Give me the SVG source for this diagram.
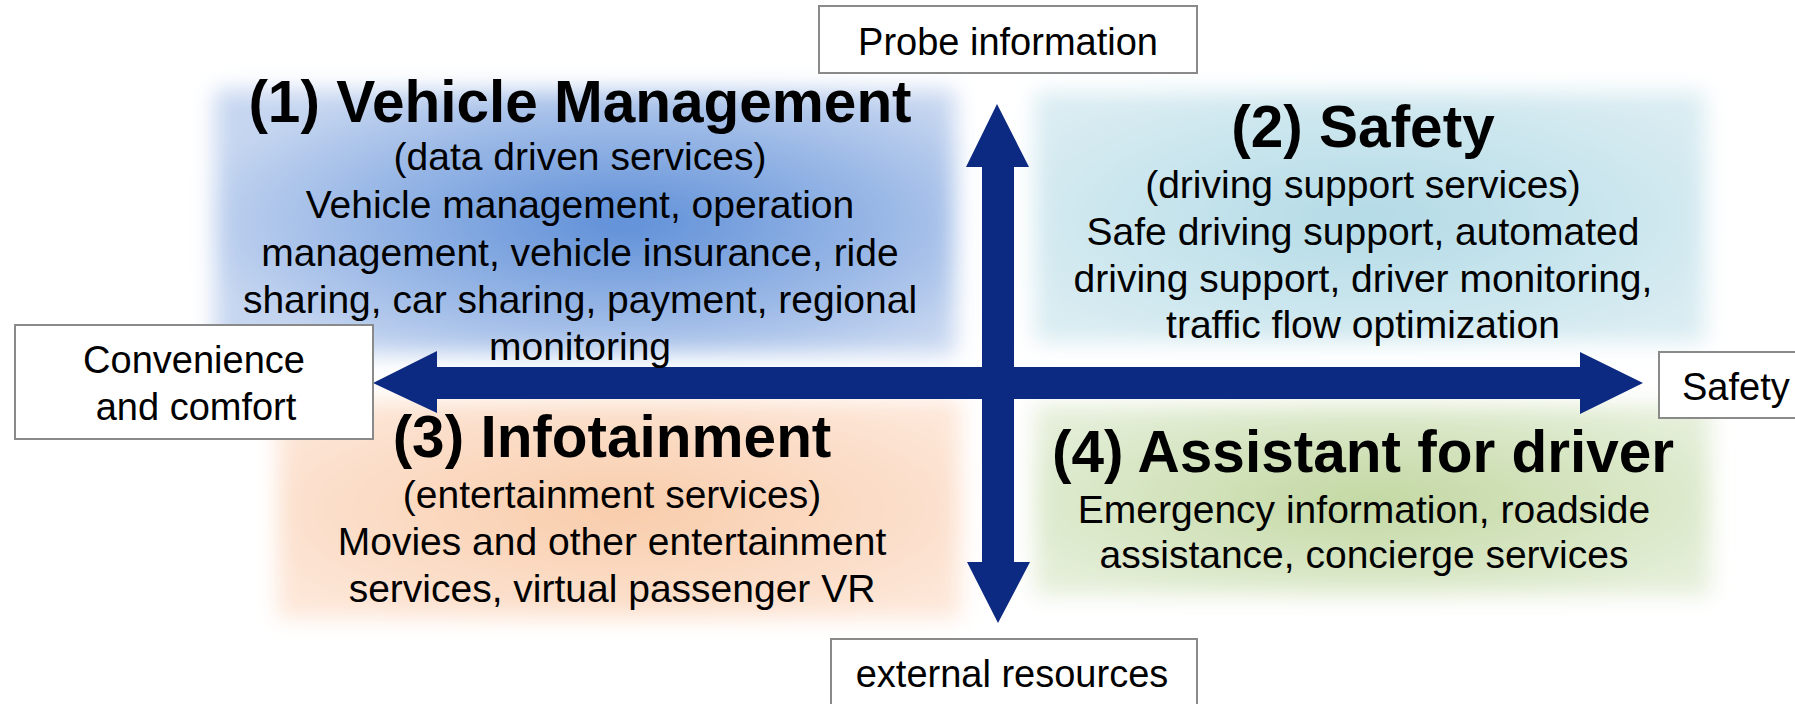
<svg xmlns="http://www.w3.org/2000/svg" width="1795" height="704" viewBox="0 0 1795 704">
<style>
.t{font-family:"Liberation Sans",Arial,sans-serif;fill:#000;text-anchor:middle}
.ti{font-size:58.5px;font-weight:bold}
.bd{font-size:39px}
.lb{font-family:"Liberation Sans",Arial,sans-serif;font-size:38px;fill:#000}
.box{fill:#fff;stroke:#8a8a8a;stroke-width:2}
.arr{fill:#0c2a82}
</style>
<defs>
<filter id="soft" x="-20%" y="-20%" width="140%" height="140%"><feGaussianBlur stdDeviation="11"/></filter>
<radialGradient id="g1" cx="0.55" cy="0.5" r="0.6"><stop offset="0" stop-color="#5e8fd8"/><stop offset="0.6" stop-color="#9ab8e6"/><stop offset="1" stop-color="#c6d6f0"/></radialGradient>
<radialGradient id="g2" cx="0.5" cy="0.5" r="0.6"><stop offset="0" stop-color="#b3dbe6"/><stop offset="1" stop-color="#d9ecf2"/></radialGradient>
<radialGradient id="g3" cx="0.5" cy="0.5" r="0.6"><stop offset="0" stop-color="#f8ccaa"/><stop offset="1" stop-color="#fde6d7"/></radialGradient>
<radialGradient id="g4" cx="0.5" cy="0.5" r="0.6"><stop offset="0" stop-color="#c3d8a2"/><stop offset="1" stop-color="#e4eed8"/></radialGradient>
</defs>
<rect width="1795" height="704" fill="#fff"/>
<g id="bg">
<rect x="215" y="90" width="740" height="264" fill="url(#g1)" filter="url(#soft)"/>
<rect x="1035" y="92" width="670" height="250" fill="url(#g2)" filter="url(#soft)"/>
<rect x="278" y="400" width="682" height="218" fill="url(#g3)" filter="url(#soft)"/>
<rect x="1035" y="405" width="675" height="190" fill="url(#g4)" filter="url(#soft)"/>
</g>
<g id="connectors">
<polygon class="arr" points="373,383 437,351 437,367 982,367 982,167 966,167 997,104 1029,167 1014,167 1014,367 1580,367 1580,352 1643,383 1580,414 1580,399 1014,399 1014,562 1030,562 998,623 967,562 982,562 982,399 437,399 437,413"/>
</g>
<g id="q1">
<text class="t ti" x="580" y="122">(1) Vehicle Management</text>
<text class="t bd" x="580" y="170">(data driven services)</text>
<text class="t bd" x="580" y="218">Vehicle management, operation</text>
<text class="t bd" x="580" y="266">management, vehicle insurance, ride</text>
<text class="t bd" x="580" y="313">sharing, car sharing, payment, regional</text>
<text class="t bd" x="580" y="360">monitoring</text>
</g>
<g id="q2">
<text class="t ti" x="1363" y="147">(2) Safety</text>
<text class="t bd" x="1363" y="198">(driving support services)</text>
<text class="t bd" x="1363" y="245">Safe driving support, automated</text>
<text class="t bd" x="1363" y="292">driving support, driver monitoring,</text>
<text class="t bd" x="1363" y="338">traffic flow optimization</text>
</g>
<g id="q3">
<text class="t ti" x="612" y="457">(3) Infotainment</text>
<text class="t bd" x="612" y="508">(entertainment services)</text>
<text class="t bd" x="612" y="555">Movies and other entertainment</text>
<text class="t bd" x="612" y="602">services, virtual passenger VR</text>
</g>
<g id="q4">
<text class="t ti" x="1363" y="472">(4) Assistant for driver</text>
<text class="t bd" x="1364" y="523">Emergency information, roadside</text>
<text class="t bd" x="1364" y="568">assistance, concierge services</text>
</g>
<g id="probe">
<rect class="box" x="819" y="6" width="378" height="67"/>
<text class="lb" x="1008" y="55" text-anchor="middle">Probe information</text>
</g>
<g id="convenience">
<rect class="box" x="15" y="325" width="358" height="114"/>
<text class="lb" x="194" y="373" text-anchor="middle">Convenience</text>
<text class="lb" x="196" y="420" text-anchor="middle">and comfort</text>
</g>
<g id="external">
<rect class="box" x="831" y="639" width="366" height="80"/>
<text class="lb" x="1012" y="687" text-anchor="middle">external resources</text>
</g>
<g id="safety">
<rect class="box" x="1659" y="352" width="160" height="66"/>
<text class="lb" x="1682" y="400">Safety</text>
</g>
</svg>
